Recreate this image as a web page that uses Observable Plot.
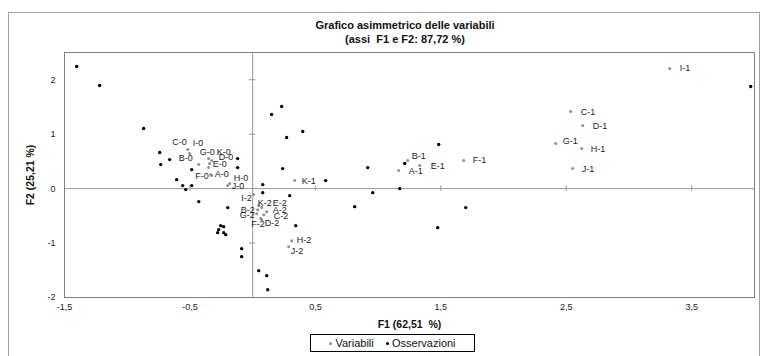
<!DOCTYPE html>
<html>
<head>
<meta charset="utf-8">
<script src="https://cdn.jsdelivr.net/npm/d3@7"></script>
<script src="https://cdn.jsdelivr.net/npm/@observablehq/plot@0.6"></script>
<style>
  body { margin: 0; background: #fff; font-family: "Liberation Sans", Arial, sans-serif; }
  #wrap { position: relative; width: 762px; height: 356px; overflow: hidden; }
  #outer { position: absolute; left: 8px; top: 12px; width: 752px; height: 360px; border: 1px solid #a0a0a0; box-sizing: border-box; }
  #title { position: absolute; left: 205px; width: 400px; top: 18px; text-align: center; font-weight: bold; font-size: 11px; line-height: 14px; color: #111; }
  #legend { position: absolute; left: 310px; top: 334px; width: 165px; height: 18px; border: 1px solid #000; box-sizing: border-box; font-size: 11px; line-height: 16px; color: #111; text-align: center; background: #fff; }
  #legend span.dot { display: inline-block; width: 3px; height: 3px; border-radius: 50%; vertical-align: middle; margin: 0 3px 2px 0; }
  #chart { position: absolute; left: 0; top: 0; }
  #chart svg text { opacity: 0.995; }
</style>
</head>
<body>
<div id="wrap">
  <div id="outer"></div>
  <div id="chart"></div>
  <div id="title">Grafico asimmetrico delle variabili<br>(assi&nbsp; F1 e F2: 87,72 %)</div>
  <div id="legend"><span class="dot" style="background:#909090"></span>Variabili&nbsp;&nbsp;&nbsp;&nbsp;<span class="dot" style="background:#000"></span>Osservazioni</div>
</div>
<script>
// ---- data ----
const varNames = ["A-0","B-0","C-0","D-0","E-0","F-0","G-0","H-0","I-0","J-0","K-0",
                  "A-1","B-1","C-1","D-1","E-1","F-1","G-1","H-1","I-1","J-1","K-1",
                  "A-2","B-2","C-2","D-2","E-2","F-2","G-2","H-2","I-2","J-2","K-2"];
const varF1 = [-0.327,-0.430,-0.518,-0.343,-0.351,-0.335,-0.351,-0.183,-0.502,-0.199,-0.327,
               1.164,1.236,2.535,2.631,1.331,1.682,2.415,2.623,3.324,2.551,0.335,
               0.112,0.040,0.088,0.072,0.072,0.064,0.032,0.311,0.008,0.287,0.048];
const varF2 = [0.239,0.441,0.717,0.460,0.386,0.257,0.551,0.092,0.643,0.055,0.515,
               0.331,0.515,1.415,1.158,0.423,0.515,0.827,0.735,2.206,0.368,0.147,
               -0.423,-0.386,-0.478,-0.570,-0.349,-0.551,-0.460,-0.956,-0.110,-1.066,-0.313];
const obsF1 = [-1.403,-1.220,-0.869,-0.741,-0.733,-0.662,-0.486,-0.606,-0.558,-0.534,-0.486,
               -0.120,-0.120,-0.430,-0.199,-0.255,-0.231,-0.271,-0.279,-0.231,-0.215,-0.088,
               -0.088,0.048,0.112,0.120,0.343,0.295,0.080,0.231,0.151,0.271,0.239,0.080,
               0.399,0.582,0.813,0.917,0.957,1.172,1.212,1.483,1.698,1.475,3.970];
const obsF2 = [2.243,1.893,1.103,0.662,0.441,0.533,0.349,0.165,0.055,-0.018,0.055,
               0.551,0.386,-0.239,-0.349,-0.680,-0.699,-0.754,-0.809,-0.809,-0.846,-1.103,
               -1.250,-1.507,-1.599,-1.857,-0.680,-0.129,-0.074,1.507,1.360,0.938,0.368,0.074,
               1.048,0.147,-0.331,0.386,-0.074,0.000,0.460,0.809,-0.349,-0.717,1.875];
const xTicks = [-1.5,-0.5,0.5,1.5,2.5,3.5];
const yTicks = [-2,-1,0,1,2];

// ---- label placement (pixels) ----
const labelPos = {
  "A-0":[3,-1,"start"],"B-0":[-6,-6,"end"],"C-0":[-1,-7,"end"],"D-0":[9,-6,"start"],
  "E-0":[4,-3,"start"],"F-0":[-2,1,"end"],"G-0":[6,-7,"end"],"H-0":[4,-5,"start"],
  "I-0":[3,-10,"start"],"J-0":[4,0,"start"],"K-0":[5,-8,"start"],
  "A-1":[10,1,"start"],"B-1":[4,-4,"start"],"C-1":[10,1,"start"],"D-1":[10,1,"start"],
  "E-1":[11,1,"start"],"F-1":[9,0,"start"],"G-1":[7,-2,"start"],"H-1":[9,1,"start"],
  "I-1":[10,0,"start"],"J-1":[9,1,"start"],"K-1":[7,1,"start"],
  "A-2":[6,-2,"start"],"B-2":[-3,0,"end"],"C-2":[10,1,"start"],"D-2":[3,3,"start"],
  "E-2":[11,-5,"start"],"F-2":[4,5,"end"],"G-2":[-2,1,"end"],"H-2":[5,-1,"start"],
  "I-2":[-2,4,"end"],"J-2":[2,4,"start"],"K-2":[-1,-3,"start"]
};

const vars = varNames.map((n,i)=>({name:n, f1:varF1[i], f2:varF2[i]}));
const obs = obsF1.map((v,i)=>({f1:v, f2:obsF2[i]}));
const fmt = d => String(d).replace(".", ",");

const labelMarks = vars.map(v => {
  const [dx, dy, anchor] = labelPos[v.name];
  return Plot.text([v], {x:"f1", y:"f2", text:"name", dx, dy, textAnchor:anchor,
    fontSize:9, fill:"#222"});
});

const chart = Plot.plot({
  width: 762, height: 356,
  marginLeft: 64, marginRight: 8, marginTop: 52, marginBottom: 59,
  style: {fontFamily: "'Liberation Sans', Arial, sans-serif", background: "transparent"},
  x: {domain: [-1.5, 4]},
  y: {domain: [-2, 2.5]},
  marks: [
    Plot.ruleX([0], {stroke:"#999"}),
    Plot.ruleY([0], {stroke:"#999"}),
    Plot.ruleX(xTicks, {x: d=>d, y1: -0.05, y2: 0.05, stroke:"#999"}),
    Plot.ruleY(yTicks.filter(d=>d!==0), {y: d=>d, x1: -0.025, x2: 0.025, stroke:"#999"}),
    Plot.frame({stroke:"#808080"}),
    Plot.axisX(xTicks, {tickSize:0, tickPadding:6, tickFormat: fmt, fontSize:9, fill:"#222",
      label:"F1 (62,51  %)", labelAnchor:"center", labelArrow:"none", labelOffset:30}),
    Plot.axisY(yTicks, {tickSize:0, tickPadding:9, tickFormat: fmt, fontSize:9, fill:"#222",
      label:"F2 (25,21 %)", labelAnchor:"center", labelArrow:"none", labelOffset:38}),
    Plot.dot(obs, {x:"f1", y:"f2", r:1.7, fill:"#000", stroke:"none"}),
    Plot.dot(vars, {x:"f1", y:"f2", r:1.5, fill:"#909090", stroke:"none"}),
    ...labelMarks
  ]
});
document.getElementById("chart").appendChild(chart);
// bold axis titles
chart.querySelectorAll("g[aria-label='x-axis label'] text, g[aria-label='y-axis label'] text").forEach(t=>{
  t.setAttribute("font-weight","bold"); t.setAttribute("font-size","10.5"); t.setAttribute("fill","#111");
});
</script>
</body>
</html>
